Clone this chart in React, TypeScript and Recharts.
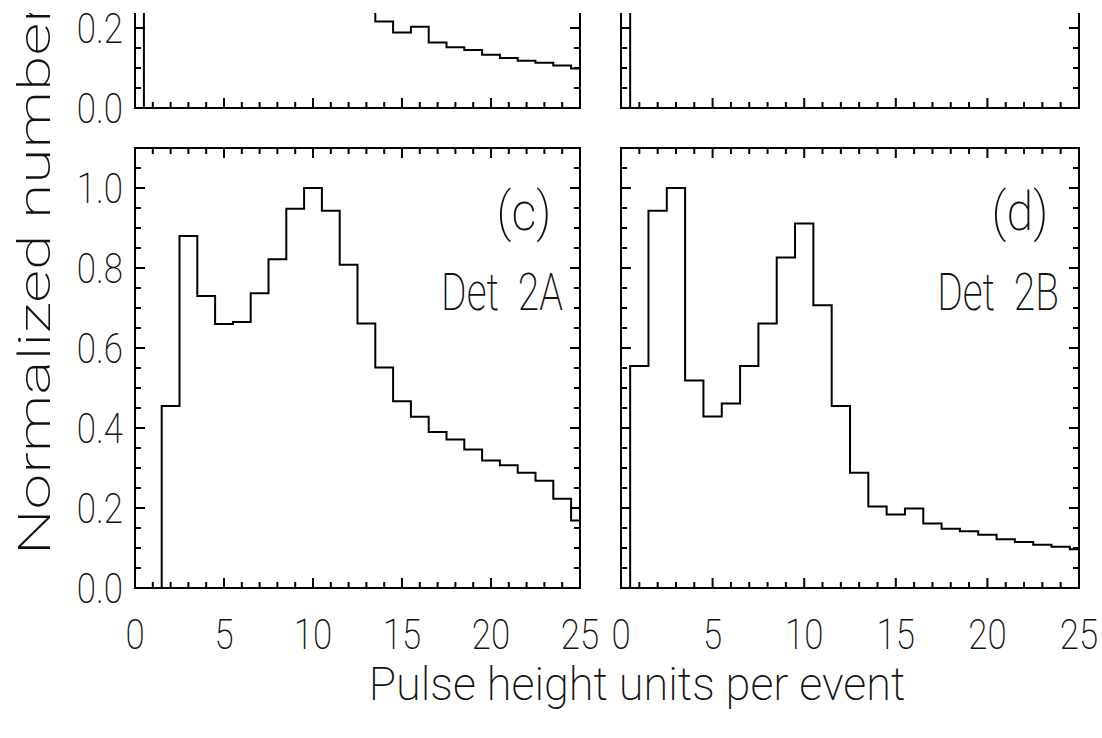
import React from "react";
import { LineChart, Line, XAxis, YAxis } from "recharts";

// bin centres (pulse height units); each bin is 1 unit wide
const binCenters = [0, 1, 2, 3, 4, 5, 6, 7, 8, 9, 10, 11, 12, 13, 14, 15, 16, 17, 18, 19, 20, 21, 22, 23, 24, 25];

// top panels are mostly cropped away, only the tail below ~0.27 is visible
const detA1 = [0, 0.42, 0.93, 1.0, 0.7, 0.6, 0.62, 0.7, 0.8, 0.88, 0.84, 0.66, 0.45, 0.3, 0.216, 0.189, 0.203, 0.164, 0.152, 0.145, 0.133, 0.125, 0.118, 0.113, 0.106, 0.099];
const detB1 = [0, 0.62, 0.97, 1.0, 0.74, 0.66, 0.69, 0.76, 0.84, 0.9, 0.86, 0.74, 0.64, 0.57, 0.52, 0.49, 0.47, 0.45, 0.43, 0.42, 0.41, 0.4, 0.39, 0.38, 0.37, 0.36];
const det2A = [0, 0, 0.455, 0.88, 0.73, 0.66, 0.665, 0.737, 0.822, 0.948, 1.0, 0.943, 0.808, 0.661, 0.551, 0.467, 0.428, 0.39, 0.371, 0.346, 0.319, 0.307, 0.288, 0.268, 0.223, 0.169];
const det2B = [0, 0.555, 0.943, 1.0, 0.519, 0.429, 0.461, 0.555, 0.661, 0.826, 0.911, 0.707, 0.455, 0.288, 0.204, 0.184, 0.199, 0.161, 0.148, 0.142, 0.133, 0.122, 0.115, 0.108, 0.103, 0.097];

const xTicks = [0, 1, 2, 3, 4, 5, 6, 7, 8, 9, 10, 11, 12, 13, 14, 15, 16, 17, 18, 19, 20, 21, 22, 23, 24, 25];
const xMajor = [0, 5, 10, 15, 20, 25];
const yTicks = [0, 0.05, 0.1, 0.15, 0.2, 0.25, 0.3, 0.35, 0.4, 0.45, 0.5, 0.55, 0.6, 0.65, 0.7, 0.75, 0.8, 0.85, 0.9, 0.95, 1.0, 1.05, 1.1];
const yMajor = [0, 0.2, 0.4, 0.6, 0.8, 1.0];

const X_MAX = 25;
const Y_MAX = 1.1;
const PLOT_H = 440;
const CLIP_TOP = 13;
const MAJOR = 10;
const MINOR = 6;
const PAD = { l: 80, r: 30, t: 20, b: 80 };
const FONT = "Roboto, 'Liberation Sans', sans-serif";

// histogram -> step points at bin edges, clipped to the axis range
function toSteps(values: number[]) {
  const pts = values.map((v, i) => ({ x: Math.max(0, binCenters[i] - 0.5), v }));
  const last = binCenters.length - 1;
  pts.push({ x: Math.min(X_MAX, binCenters[last] + 0.5), v: values[last] });
  return pts;
}

const isMajorX = (v: number) => xMajor.includes(v);
const isMajorY = (v: number) => yMajor.some(m => Math.abs(m - v) < 1e-6);

function SText({ x, y, children, anchor = "middle", sx = 0.83, size = 42, rotate = 0 }: any) {
  return (
    <text
      transform={`translate(${x},${y}) rotate(${rotate}) scale(${sx},1)`}
      textAnchor={anchor}
      fontFamily={FONT}
      fontWeight={200}
      fontSize={size}
      fill="#111"
    >
      {children}
    </text>
  );
}

const bottomTick = (showLabel: boolean) => (p: any) => {
  const major = isMajorX(p.payload.value);
  return (
    <g>
      <line x1={p.x} y1={p.y} x2={p.x} y2={p.y - (major ? MAJOR : MINOR)} stroke="#000" strokeWidth={2} />
      {showLabel && major && <SText x={p.x} y={p.y + 60.5}>{String(p.payload.value)}</SText>}
    </g>
  );
};

const topTick = (p: any) => {
  const major = isMajorX(p.payload.value);
  return <line x1={p.x} y1={p.y} x2={p.x} y2={p.y + (major ? MAJOR : MINOR)} stroke="#000" strokeWidth={2} />;
};

const leftTick = (showLabel: boolean) => (p: any) => {
  const major = isMajorY(p.payload.value);
  return (
    <g>
      <line x1={p.x} y1={p.y} x2={p.x + (major ? MAJOR : MINOR)} y2={p.y} stroke="#000" strokeWidth={2} />
      {showLabel && major && (
        <SText x={p.x - 12} y={p.y + 15} anchor="end">{Number(p.payload.value).toFixed(1)}</SText>
      )}
    </g>
  );
};

const rightTick = (p: any) => {
  const major = isMajorY(p.payload.value);
  return <line x1={p.x} y1={p.y} x2={p.x - (major ? MAJOR : MINOR)} y2={p.y} stroke="#000" strokeWidth={2} />;
};

const frame = { stroke: "#000", strokeWidth: 2, strokeLinecap: "square" as const };

function Panel({ values, plotX, plotW, bottom, xLabels, yLabels }: any) {
  const data = toSteps(values);
  const top = bottom - PLOT_H;
  return (
    <div style={{ position: "absolute", left: plotX - PAD.l, top: top - PAD.t - CLIP_TOP }}>
      <LineChart width={plotW + PAD.l + PAD.r} height={PLOT_H + PAD.t + PAD.b} data={data} margin={{ top: 0, right: 0, bottom: 0, left: 0 }}>
        <XAxis xAxisId="b" dataKey="x" type="number" domain={[0, X_MAX]} allowDataOverflow ticks={xTicks} interval={0}
          height={PAD.b} axisLine={frame} tickLine={false} tickSize={0} tickMargin={0} tick={bottomTick(xLabels)} />
        <XAxis xAxisId="t" dataKey="x" type="number" orientation="top" domain={[0, X_MAX]} allowDataOverflow ticks={xTicks} interval={0}
          height={PAD.t} axisLine={frame} tickLine={false} tickSize={0} tickMargin={0} tick={topTick} />
        <YAxis yAxisId="l" type="number" domain={[0, Y_MAX]} allowDataOverflow ticks={yTicks} interval={0}
          width={PAD.l} axisLine={frame} tickLine={false} tickSize={0} tickMargin={0} tick={leftTick(yLabels)} />
        <YAxis yAxisId="r" type="number" orientation="right" domain={[0, Y_MAX]} allowDataOverflow ticks={yTicks} interval={0}
          width={PAD.r} axisLine={frame} tickLine={false} tickSize={0} tickMargin={0} tick={rightTick} />
        <Line xAxisId="b" yAxisId="l" type="stepAfter" dataKey="v" stroke="#000" strokeWidth={2}
          dot={false} activeDot={false} isAnimationActive={false} />
      </LineChart>
    </div>
  );
}

export default function App() {
  return (
    <div style={{ position: "absolute", left: 0, top: 0, width: 1102, height: 738, background: "#fff", overflow: "hidden" }}>
      <div style={{ position: "absolute", left: 0, top: CLIP_TOP, width: 1102, height: 738 - CLIP_TOP, overflow: "hidden" }}>
        <Panel values={detA1} plotX={135} plotW={445} bottom={107.5} xLabels={false} yLabels={true} />
        <Panel values={detB1} plotX={621} plotW={458} bottom={107.5} xLabels={false} yLabels={false} />
        <Panel values={det2A} plotX={135} plotW={445} bottom={587.5} xLabels={true} yLabels={true} />
        <Panel values={det2B} plotX={621} plotW={458} bottom={587.5} xLabels={true} yLabels={false} />
        <svg width={1102} height={738} style={{ position: "absolute", left: 0, top: -CLIP_TOP, pointerEvents: "none" }}>
          <SText x={524} y={230} size={54} sx={0.9}>(c)</SText>
          <SText x={502} y={310} size={52} sx={0.75}>{"Det\u00a0\u00a02A"}</SText>
          <SText x={1020} y={230} size={54} sx={0.9}>(d)</SText>
          <SText x={998} y={310} size={52} sx={0.75}>{"Det\u00a0\u00a02B"}</SText>
          <SText x={637} y={700} size={46} sx={0.98}>Pulse height units per event</SText>
          <SText x={50} y={555} size={45} sx={1.43} rotate={-90} anchor="start">Normalized number</SText>
        </svg>
      </div>
    </div>
  );
}
